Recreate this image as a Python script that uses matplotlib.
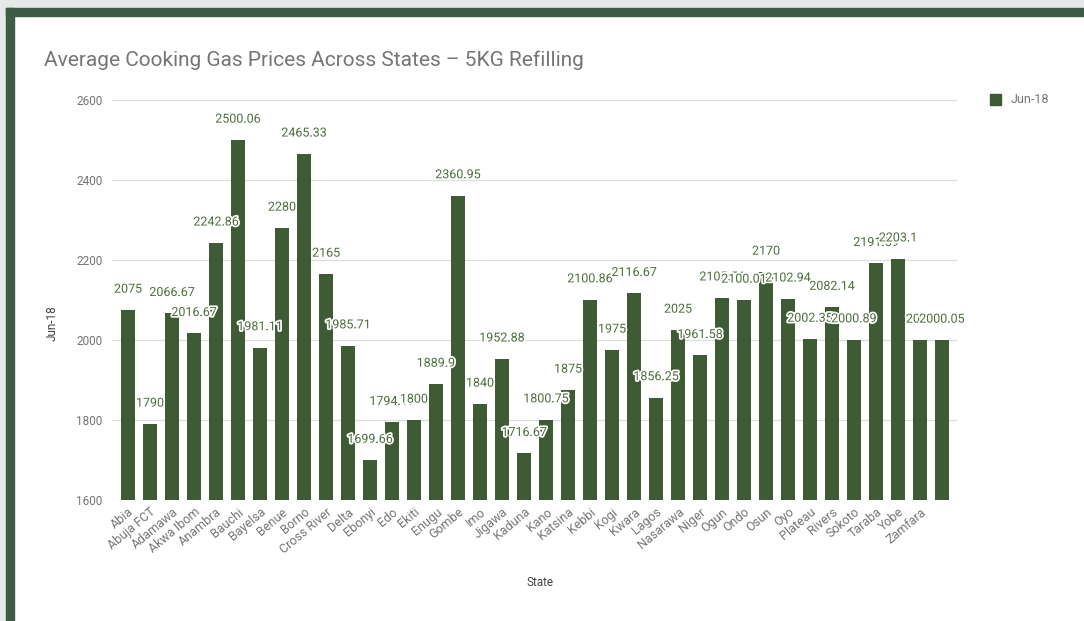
import matplotlib
matplotlib.use("Agg")
import matplotlib.pyplot as plt
import matplotlib.patheffects as pe
from matplotlib.patches import Rectangle

# ---- data ----
states = ["Abia", "Abuja FCT", "Adamawa", "Akwa Ibom", "Anambra", "Bauchi", "Bayelsa",
          "Benue", "Borno", "Cross River", "Delta", "Ebonyi", "Edo", "Ekiti", "Enugu",
          "Gombe", "Imo", "Jigawa", "Kaduna", "Kano", "Katsina", "Kebbi", "Kogi", "Kwara",
          "Lagos", "Nasarawa", "Niger", "Ogun", "Ondo", "Osun", "Oyo", "Plateau", "Rivers",
          "Sokoto", "Taraba", "Yobe", "Zamfara", ""]
jun18 = [2075, 1790, 2066.67, 2016.67, 2242.86, 2500.06, 1981.11, 2280, 2465.33, 2165,
         1985.71, 1699.66, 1794.17, 1800, 1889.9, 2360.95, 1840, 1952.88, 1716.67, 1800.75,
         1875, 2100.86, 1975, 2116.67, 1856.25, 2025, 1961.58, 2105.56, 2100.01, 2170,
         2102.94, 2002.35, 2082.14, 2000.89, 2191.59, 2203.1, 2000, 2000.05]
y_ticks = [1600, 1800, 2000, 2200, 2400, 2600]
series_name = "Jun-18"
title = "Average Cooking Gas Prices Across States \u2013 5KG Refilling"

# ---- style ----
W, H = 1084, 621
plt.rcParams['font.family'] = ['Roboto', 'DejaVu Sans']
BAR = '#3e5b36'
LBL = '#4e6e3e'
GRAY = '#757575'

fig = plt.figure(figsize=(W / 100, H / 100), dpi=100)
fig.patch.set_facecolor('white')

# page frame (gray margin + dark green border)
def frect(x0, y0, w, h, c):
    fig.patches.append(Rectangle((x0 / W, 1 - (y0 + h) / H), w / W, h / H,
                                 transform=fig.transFigure, color=c, zorder=-10))
frect(0, 0, W, 8, '#e6e7e8')
frect(0, 0, 6, H, '#e6e7e8')
frect(6, 8, W - 6, 8, '#3d5b45')
frect(6, 8, 8, H - 8, '#3d5b45')

ax = fig.add_axes([112 / W, 121 / H, 845 / W, 400 / H])
ax.set_facecolor('none')
x = list(range(len(states)))
ax.bar(x, jun18, width=0.64, color=BAR, zorder=2, label=series_name)

ax.set_ylim(1600, 2600)
ax.set_xlim(-0.73, len(states) - 1 + 0.68)
ax.set_yticks(y_ticks)
ax.set_yticklabels([str(t) for t in y_ticks], color=GRAY, fontsize=8.5)
ax.yaxis.grid(True, color='#dcdcdc', linewidth=0.9, zorder=0)
ax.set_axisbelow(True)
for s in ax.spines.values():
    s.set_visible(False)
ax.tick_params(axis='both', length=0)
ax.tick_params(axis='y', pad=7)

ax.set_xticks(x)
ax.set_xticklabels(states, rotation=40, ha='right', rotation_mode='anchor',
                   color=GRAY, fontsize=9)
ax.tick_params(axis='x', pad=4)

for xi, v in zip(x, jun18):
    ax.annotate('{:g}'.format(v), (xi, v), xytext=(0, 15), textcoords='offset points',
                ha='center', va='center', fontsize=9, color=LBL, zorder=5,
                path_effects=[pe.withStroke(linewidth=2.5, foreground='white')])

fig.text(44 / W, 1 - 60 / H, title, fontsize=15, color=GRAY, ha='left', va='center')
fig.text(52 / W, 1 - 323 / H, series_name, rotation=90, fontsize=8.5, color='#444444',
         ha='center', va='center')
fig.text(540 / W, 1 - 582 / H, "State", fontsize=8.5, color='#444444',
         ha='center', va='center')

# legend
fig.patches.append(Rectangle((990 / W, 1 - 105 / H), 11 / W, 11 / H,
                             transform=fig.transFigure, color=BAR))
fig.text(1011 / W, 1 - 99.5 / H, series_name, fontsize=9, color=GRAY, ha='left', va='center')

fig.savefig('out.png', dpi=100)
